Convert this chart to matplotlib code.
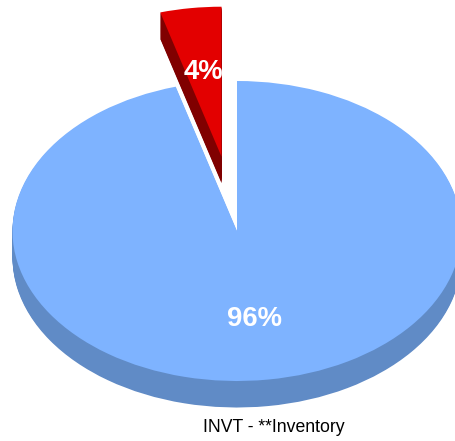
import matplotlib
matplotlib.use("Agg")
import matplotlib.pyplot as plt
import numpy as np

plt.rcParams["font.family"] = ["Liberation Sans", "DejaVu Sans"]

# -----------------------------
# Data
# -----------------------------
shares = [95.6, 4.4]
share_labels = ["96%", "4%"]
explode = [0.0, 0.5]
top_colors = ["#7EB3FF", "#E30000"]
side_colors = ["#608BC6", "#800000"]
category = "INVT - **Inventory"

# -----------------------------
# Layout (pixels in the 456x441 image)
# -----------------------------
W, H = 456, 441
cx, cy = 237.0, 231.0
rx, ry = 224.5, 150.0
depth = 26.5 / ry

fig = plt.figure(figsize=(W/100, H/100), dpi=100)
ax = fig.add_axes([0, 0, 1, 1])


def draw_pie(center, colors):
    ax.pie(
        shares,
        explode=explode,
        colors=colors,
        startangle=90,
        counterclock=False,
        center=center,
        wedgeprops={"linewidth": 0},
    )


# the 3D look: darker copies swept down, the real pie on top
for d in np.linspace(depth, 0, 28)[:-1]:
    draw_pie((0, -d), side_colors)
draw_pie((0, 0), top_colors)

# pie forces equal aspect, squash it into an ellipse
ax.set_aspect("auto")
ax.set_xlim(-cx/rx, (W - cx)/rx)
ax.set_ylim(-(H - cy)/ry, cy/ry)

ax.text(0.076, -0.587, share_labels[0], color="white", fontsize=19.8,
        fontweight="bold", ha="center", va="center")
ax.text(-0.151, 1.06, share_labels[1], color="white", fontsize=19.8,
        fontweight="bold", ha="center", va="center")

ax.text(274/W, 1 - 427/H, category, transform=ax.transAxes, color="black",
        fontsize=12.7, ha="center", va="center")

fig.savefig("out.png", dpi=100)
